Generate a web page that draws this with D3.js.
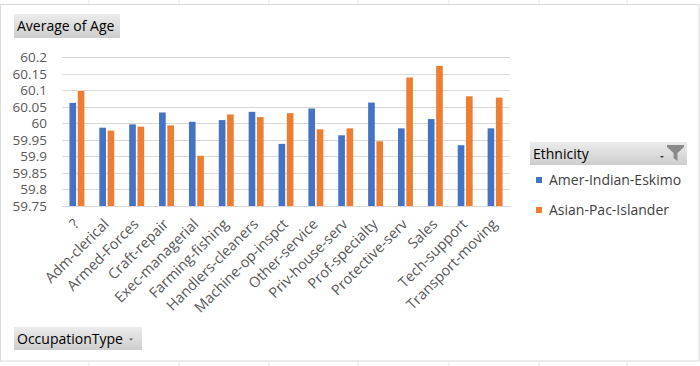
<!DOCTYPE html>
<html>
<head>
<meta charset="utf-8">
<script src="https://cdn.jsdelivr.net/npm/d3@7"></script>
<style>
  body { margin: 0; background: #fff; }
  svg { display: block; font-family: "Open Sans", "Noto Sans", sans-serif; }
</style>
</head>
<body>
<script>
// chart data
var occupations = ["?", "Adm-clerical", "Armed-Forces", "Craft-repair", "Exec-managerial",
  "Farming-fishing", "Handlers-cleaners", "Machine-op-inspct", "Other-service",
  "Priv-house-serv", "Prof-specialty", "Protective-serv", "Sales", "Tech-support",
  "Transport-moving"];
var ethnicities = ["Amer-Indian-Eskimo", "Asian-Pac-Islander"];
var amerIndian = [60.062, 59.987, 59.997, 60.033, 60.005, 60.010, 60.035, 59.938,
  60.045, 59.964, 60.063, 59.985, 60.013, 59.934, 59.985];
var asianPac = [60.098, 59.978, 59.990, 59.994, 59.902, 60.027, 60.019, 60.031,
  59.982, 59.985, 59.946, 60.139, 60.174, 60.082, 60.078];
var yTicks = [59.75, 59.8, 59.85, 59.9, 59.95, 60, 60.05, 60.1, 60.15, 60.2];

var colors = ["#4472C4", "#ED7D31"];

window.onload = drawChart();

function drawChart(){
  var width = 700, height = 366;

  var svg = d3.select("body").append("svg")
    .attr("width", width)
    .attr("height", height);

  var defs = svg.append("defs");
  var grad = defs.append("linearGradient")
    .attr("id", "btn").attr("x1", 0).attr("y1", 0).attr("x2", 0).attr("y2", 1);
  grad.append("stop").attr("offset", "0%").attr("stop-color", "#ececec");
  grad.append("stop").attr("offset", "100%").attr("stop-color", "#cdcdcd");

  // spreadsheet cell lines peeking out around the chart
  var cols = [89, 179, 269, 358, 449, 539, 627];
  svg.selectAll(".cell").data(cols).enter().append("line")
    .attr("x1", d => d).attr("x2", d => d)
    .attr("y1", 0).attr("y2", 4)
    .attr("stroke", "#e3e3e3");
  svg.selectAll(".cellb").data(cols).enter().append("line")
    .attr("x1", d => d).attr("x2", d => d)
    .attr("y1", 361).attr("y2", 366)
    .attr("stroke", "#e3e3e3");

  // chart frame
  svg.append("rect")
    .attr("x", 0.5).attr("y", 4.5)
    .attr("width", 698.5).attr("height", 356.5)
    .attr("fill", "#fff")
    .attr("stroke", "#d9d9d9");

  var y = d3.scaleLinear().domain([59.75, 60.2]).range([206, 57.3]);
  var x = d3.scaleBand().domain(occupations).range([62, 510])
    .paddingInner(0.5).paddingOuter(0.25);
  var xs = d3.scaleBand().domain(ethnicities).range([0, x.bandwidth()])
    .paddingInner(0.2);

  // gridlines
  svg.append("g").selectAll("line").data(yTicks).enter().append("line")
    .attr("x1", 62).attr("x2", 510)
    .attr("y1", d => Math.round(y(d)) + 0.5)
    .attr("y2", d => Math.round(y(d)) + 0.5)
    .attr("stroke", "#d9d9d9");

  // y axis labels
  var yAxis = d3.axisLeft(y).tickValues(yTicks)
    .tickFormat(d => String(+d.toFixed(2)))
    .tickSize(0).tickPadding(0);
  var ya = svg.append("g").attr("transform", "translate(47,0)").call(yAxis);
  ya.select(".domain").remove();
  ya.selectAll("text")
    .attr("fill", "#595959")
    .style("font-size", "13.5px")
    .style("font-family", "'Open Sans', sans-serif");

  // bars
  var rows = occupations.map((o, i) => ({ occ: o, vals: [amerIndian[i], asianPac[i]] }));
  var groups = svg.append("g").selectAll("g").data(rows).enter().append("g")
    .attr("transform", d => "translate(" + x(d.occ) + ",0)");
  groups.selectAll("rect")
    .data(d => d.vals.map((v, j) => ({ eth: ethnicities[j], v: v, j: j })))
    .enter().append("rect")
    .attr("x", d => xs(d.eth))
    .attr("width", xs.bandwidth())
    .attr("y", d => y(d.v))
    .attr("height", d => y(59.75) - y(d.v))
    .attr("fill", d => colors[d.j]);

  // x axis
  var xAxis = d3.axisBottom(x).tickSize(0).tickPadding(0);
  var xa = svg.append("g").attr("transform", "translate(0,206)").call(xAxis);
  xa.select(".domain").attr("stroke", "#d9d9d9");
  xa.selectAll("text")
    .attr("fill", "#595959")
    .attr("text-anchor", "end")
    .attr("dy", null)
    .attr("transform", "translate(3,19) rotate(-45)")
    .style("font-size", "14.5px")
    .style("font-family", "'Open Sans', sans-serif");

  // field buttons
  function button(bx, by, bw, bh, label){
    var g = svg.append("g");
    g.append("rect").attr("x", bx).attr("y", by).attr("width", bw).attr("height", bh)
      .attr("fill", "url(#btn)");
    g.append("text").attr("x", bx + 3).attr("y", by + bh / 2 + 5)
      .attr("fill", "#000")
      .style("font-size", "14px")
      .text(label);
    return g;
  }
  button(14, 14, 106, 24, "Average of Age");
  var occBtn = button(14, 327, 128, 23, "OccupationType");
  occBtn.append("path").attr("d", "M129,338.5 L133,338.5 L131,340.5 Z").attr("fill", "#555");

  var ethBtn = button(530, 142, 157, 23, "Ethnicity");
  ethBtn.append("path").attr("d", "M660,156 L664,156 L662,158 Z").attr("fill", "#333");
  ethBtn.append("path")
    .attr("d", "M667,145 L684,145 L684,147 L677.5,153 L677.5,161 L673.5,158 L673.5,153 L667,147 Z")
    .attr("fill", "#8a8a8a");

  // legend
  var leg = svg.append("g").selectAll("g").data(ethnicities).enter().append("g")
    .attr("transform", (d, i) => "translate(536," + (177 + i * 30) + ")");
  leg.append("rect").attr("width", 6).attr("height", 6)
    .attr("fill", (d, i) => colors[i]);
  leg.append("text").attr("x", 13).attr("y", 8)
    .attr("fill", "#404040")
    .style("font-size", "14px")
    .text(d => d);
}
</script>
</body>
</html>
